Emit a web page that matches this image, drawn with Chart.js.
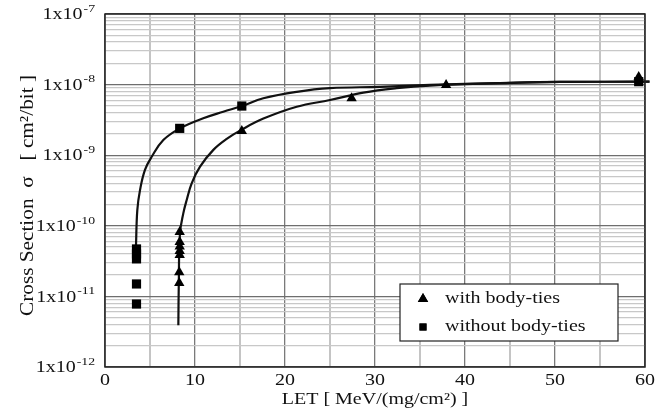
<!DOCTYPE html>
<html>
<head>
<meta charset="utf-8">
<script src="https://cdn.jsdelivr.net/npm/chart.js@4/dist/chart.umd.min.js"></script>
<style>
html,body{margin:0;padding:0;background:#fff;overflow:hidden}
#wrap{width:657px;height:410px;position:relative}
</style>
</head>
<body>
<div id="wrap"><canvas id="c" width="657" height="410"></canvas></div>
<script>
// ---- data ----
const withTiesLET   = [8.3, 8.3, 8.3, 8.3, 8.3, 8.25, 8.25, 15.2, 27.4, 37.9, 59.3];
const withTiesSigma = [8.2e-11, 5.9e-11, 5.1e-11, 4.4e-11, 3.85e-11, 2.2e-11, 1.55e-11, 2.2e-9, 6.4e-9, 9.9e-9, 1.28e-8];

const withoutTiesLET   = [3.5, 3.5, 3.5, 3.5, 3.5, 8.3, 15.2, 59.3];
const withoutTiesSigma = [4.7e-11, 4.0e-11, 3.4e-11, 1.5e-11, 7.8e-12, 2.4e-9, 4.97e-9, 1.1e-8];

const fitWithLET   = [8.15, 8.2, 8.33, 8.7, 9.07, 9.63, 10.56, 12.04, 13.52, 15.19, 17.6, 21.3, 25, 28.7, 32.4, 36.1, 43.9, 50.6, 60.5];
const fitWithSigma = [3.9e-12, 1.56e-11, 7.8e-11, 1.5e-10, 2.3e-10, 4.0e-10, 6.9e-10, 1.19e-9, 1.7e-9, 2.3e-9, 3.3e-9, 4.86e-9, 6.05e-9, 7.7e-9, 8.9e-9, 9.7e-9, 1.05e-8, 1.09e-8, 1.1e-8];

const fitWithoutLET   = [3.44, 3.59, 3.89, 4.44, 5.19, 6.48, 8.33, 10.92, 13.14, 15.19, 17.59, 21.3, 25, 30.6, 36.1, 43.9, 50.6, 60.5];
const fitWithoutSigma = [5.1e-11, 1.67e-10, 3.2e-10, 6.2e-10, 9.5e-10, 1.64e-9, 2.4e-9, 3.33e-9, 4.13e-9, 4.97e-9, 6.4e-9, 7.9e-9, 8.9e-9, 9.3e-9, 9.9e-9, 1.05e-8, 1.09e-8, 1.1e-8];

const xTickLabels = ['0', '10', '20', '30', '40', '50', '60'];
const yTickExponents = ['-7', '-8', '-9', '-10', '-11', '-12'];
const seriesNames = ['with body-ties', 'without body-ties'];
const xTitle = 'LET [ MeV/(mg/cm\u00B2) ]';
const yTitle = 'Cross Section  \u03C3   [ cm\u00B2/bit ]';

// ---- helpers ----
const FONT = '"Liberation Serif", "Times New Roman", serif';
const STRETCH = 1.25;

function pts(xs, ys) { return xs.map((x, i) => ({x: x, y: ys[i]})); }

function stretchedText(ctx, str, x, y, size, align, stretch) {
  ctx.font = size + 'px ' + FONT;
  const w = ctx.measureText(str).width * stretch;
  let left = x;
  if (align === 'center') left = x - w / 2;
  else if (align === 'right') left = x - w;
  ctx.save();
  ctx.translate(left, y);
  ctx.scale(stretch, 1);
  ctx.textAlign = 'left';
  ctx.textBaseline = 'middle';
  ctx.fillText(str, 0, 0);
  ctx.restore();
  return w;
}

function isDecade(v) {
  const l = Math.log10(v);
  return Math.abs(l - Math.round(l)) < 1e-6;
}

const textPlugin = {
  id: 'textPlugin',
  afterDraw(chart) {
    const ctx = chart.ctx;
    const xs = chart.scales.x, ys = chart.scales.y;
    const ca = chart.chartArea;
    ctx.save();
    ctx.fillStyle = '#111';
    // frame
    ctx.strokeStyle = '#222';
    ctx.lineWidth = 1.5;
    ctx.strokeRect(ca.left, ca.top, ca.right - ca.left, ca.bottom - ca.top);

    // x tick labels
    xTickLabels.forEach(t => {
      const px = xs.getPixelForValue(Number(t));
      stretchedText(ctx, t, px, ca.bottom + 14, 16, 'center', STRETCH);
    });
    // y tick labels with superscript exponents
    yTickExponents.forEach(e => {
      const py = ys.getPixelForValue(Math.pow(10, Number(e)));
      const right = ca.left - 10;
      ctx.font = '11px ' + FONT;
      const ew = ctx.measureText(e).width * STRETCH;
      stretchedText(ctx, e, right - ew, py - 5, 11, 'left', STRETCH);
      stretchedText(ctx, '1x10', right - ew - 1, py + 1, 16, 'right', STRETCH);
    });
    // x title
    stretchedText(ctx, xTitle, (ca.left + ca.right) / 2, 400, 16, 'center', STRETCH);
    // y title (rotated)
    ctx.save();
    ctx.translate(28, (ca.top + ca.bottom) / 2 + 5);
    ctx.rotate(-Math.PI / 2);
    ctx.font = '17px ' + FONT;
    const tw = ctx.measureText(yTitle).width * 1.25;
    ctx.scale(1.25, 1.15);
    ctx.textAlign = 'left';
    ctx.textBaseline = 'middle';
    ctx.fillText(yTitle, -tw / 2 / 1.25, 0);
    ctx.restore();

    // legend box
    const bx = ca.right - 245, by = ca.bottom - 83, bw = 218, bh = 57;
    ctx.fillStyle = '#fff';
    ctx.fillRect(bx, by, bw, bh);
    ctx.strokeStyle = '#222';
    ctx.lineWidth = 1.2;
    ctx.strokeRect(bx, by, bw, bh);
    ctx.fillStyle = '#111';
    const rows = [by + 15, by + 43];
    [0, 1].forEach(i => {
      const ds = chart.data.datasets[i];
      Chart.helpers.drawPoint(ctx, {
        pointStyle: ds.pointStyle,
        radius: i === 0 ? 6 : 5,
        borderWidth: 0,
        rotation: 0
      }, bx + 23, rows[i]);
      ctx.fillStyle = '#000';
      ctx.fill();
      ctx.fillStyle = '#111';
      stretchedText(ctx, seriesNames[i], bx + 45, rows[i], 16, 'left', STRETCH);
    });
    ctx.restore();
  }
};

// grid tick values for the log axis (1..9 per decade)
const yGridTicks = [];
for (let e = -12; e < -7; e++) for (let s = 1; s <= 9; s++) yGridTicks.push(s * Math.pow(10, e));
yGridTicks.push(1e-7);

new Chart(document.getElementById('c'), {
  type: 'scatter',
  data: {
    datasets: [
      {
        label: seriesNames[0],
        data: pts(withTiesLET, withTiesSigma),
        pointStyle: 'triangle',
        pointRadius: 6,
        backgroundColor: '#000',
        borderColor: '#000',
        borderWidth: 0,
        showLine: false,
        clip: false,
        order: 0
      },
      {
        label: seriesNames[1],
        data: pts(withoutTiesLET, withoutTiesSigma),
        pointStyle: 'rect',
        pointRadius: 6.5,
        backgroundColor: '#000',
        borderColor: '#000',
        borderWidth: 0,
        showLine: false,
        clip: false,
        order: 0
      },
      {
        label: 'fit with body-ties',
        data: pts(fitWithLET, fitWithSigma),
        showLine: true,
        pointRadius: 0,
        borderColor: '#111',
        borderWidth: 2.2,
        tension: 0.4,
        clip: false,
        order: 1
      },
      {
        label: 'fit without body-ties',
        data: pts(fitWithoutLET, fitWithoutSigma),
        showLine: true,
        pointRadius: 0,
        borderColor: '#111',
        borderWidth: 2.2,
        tension: 0.4,
        clip: false,
        order: 1
      }
    ]
  },
  options: {
    responsive: false,
    animation: false,
    devicePixelRatio: 1,
    layout: { padding: { top: 14, right: 12, left: 0, bottom: 0 } },
    plugins: { legend: { display: false }, tooltip: { enabled: false } },
    scales: {
      x: {
        type: 'linear',
        min: 0, max: 60,
        ticks: { display: false, stepSize: 5, autoSkip: false },
        grid: {
          drawTicks: false,
          color: c => (c.tick && c.tick.value % 10 === 0) ? '#7a7a7a' : '#c4c4c4',
          lineWidth: c => (c.tick && c.tick.value % 10 === 0) ? 1.3 : 2
        },
        border: { display: false },
        afterFit: s => { s.height = 43; }
      },
      y: {
        type: 'logarithmic',
        min: 1e-12, max: 1e-7,
        afterBuildTicks: s => { s.ticks = yGridTicks.map(v => ({ value: v, major: isDecade(v) })); },
        ticks: { display: false, autoSkip: false },
        grid: {
          drawTicks: false,
          color: c => (c.tick && isDecade(c.tick.value)) ? '#6e6e6e' : '#c8c8c8',
          lineWidth: c => (c.tick && isDecade(c.tick.value)) ? 1.3 : 1.3
        },
        border: { display: false },
        afterFit: s => { s.width = 105; }
      }
    }
  },
  plugins: [textPlugin]
});
</script>
</body>
</html>
